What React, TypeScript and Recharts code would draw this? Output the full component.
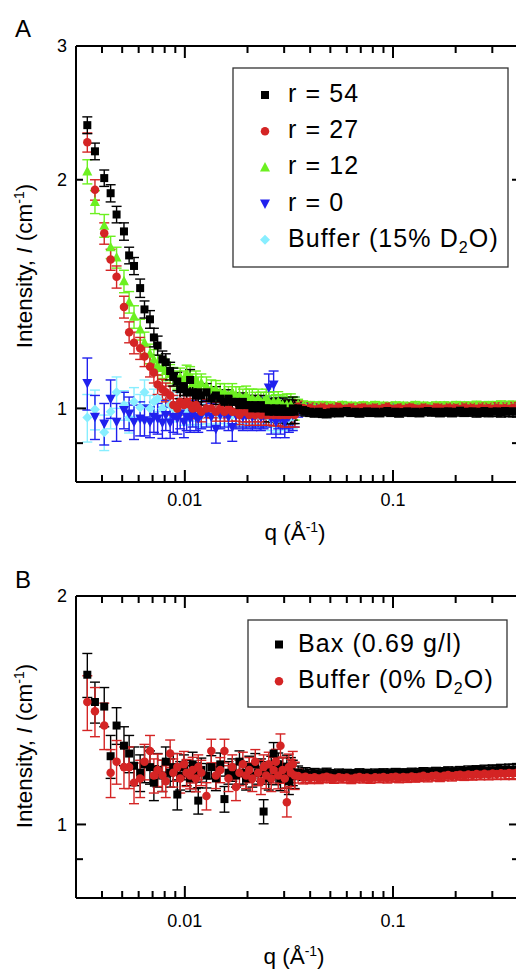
import React from 'react';
import { ScatterChart, Scatter, XAxis, YAxis, ErrorBar } from 'recharts';

const FONT = '"Liberation Sans", Arial, Helvetica, sans-serif';

// q grids (Å^-1): first detector setting and second detector setting
const qLow = [
  0.0034, 0.0037, 0.0041, 0.0044, 0.0047, 0.0051, 0.0054, 0.0057, 0.0061, 0.0064,
  0.0068, 0.0071, 0.0074, 0.0078, 0.0081, 0.0085, 0.0088, 0.0092, 0.0095, 0.0099,
  0.0102, 0.0106, 0.0109, 0.0113, 0.0116, 0.012, 0.0127, 0.0134, 0.0141, 0.0148,
  0.0155, 0.0162, 0.0169, 0.0176, 0.0183, 0.019, 0.0197, 0.0204, 0.0211, 0.0218,
  0.0225, 0.0232, 0.0239, 0.0246, 0.0253, 0.026, 0.0267, 0.0274, 0.0281, 0.0288,
  0.0295, 0.0302, 0.0309, 0.0316, 0.0323, 0.033, 0.0337,
];
const qHigh = [
  0.035, 0.037, 0.038, 0.04, 0.042, 0.044, 0.046, 0.048, 0.05, 0.052,
  0.055, 0.057, 0.06, 0.063, 0.066, 0.069, 0.072, 0.075, 0.078, 0.082,
  0.086, 0.09, 0.094, 0.098, 0.103, 0.107, 0.112, 0.117, 0.123, 0.128,
  0.134, 0.14, 0.147, 0.154, 0.161, 0.168, 0.176, 0.184, 0.192, 0.201,
  0.21, 0.22, 0.23, 0.241, 0.252, 0.263, 0.275, 0.288, 0.301, 0.315,
  0.33, 0.345, 0.361, 0.377, 0.394,
];

// ---- panel A ----
const r54Low = [
  2.36, 2.18, 2.01, 1.92, 1.8, 1.71, 1.59, 1.54, 1.44, 1.35,
  1.31, 1.24, 1.21, 1.16, 1.15, 1.12, 1.1, 1.085, 1.06, 1.07,
  1.05, 1.09, 1.05, 1.04, 1.05, 1.04, 1.05, 1.03, 1.04, 1.03,
  1.02, 1.03, 1.02, 1.02, 1.01, 1.02, 1.01, 1.01, 1.0, 1.01,
  1.0, 1.01, 1.0, 1.0, 0.99, 1.0, 0.99, 1.0, 0.99, 0.99,
  1.0, 0.99, 0.99, 0.99, 0.99, 1.0, 0.99,
];
const r54LowErr = [
  0.06, 0.055, 0.05, 0.05, 0.045, 0.045, 0.04, 0.04, 0.04, 0.035,
  0.035, 0.035, 0.035, 0.03, 0.03, 0.03, 0.03, 0.03, 0.03, 0.03,
  0.03, 0.035, 0.03, 0.03, 0.03, 0.03, 0.028, 0.028, 0.028, 0.028,
  0.028, 0.028, 0.028, 0.028, 0.028, 0.028, 0.028, 0.03, 0.03, 0.03,
  0.03, 0.03, 0.03, 0.03, 0.03, 0.03, 0.03, 0.032, 0.032, 0.032,
  0.032, 0.032, 0.035, 0.035, 0.035, 0.035, 0.035,
];
const r27Low = [
  2.24, 1.94, 1.7, 1.57, 1.49, 1.36, 1.26, 1.22, 1.2, 1.17,
  1.135, 1.115, 1.075, 1.06, 1.05, 1.04, 1.01, 1.0, 1.02, 1.01,
  1.02, 1.01, 1.0, 1.01, 1.0, 0.99, 1.0, 1.0, 0.99, 1.0,
  0.99, 1.0, 0.99, 0.99, 0.98, 0.99, 0.99, 0.98, 0.99, 0.98,
  0.99, 0.98, 0.99, 0.98, 0.98, 0.99, 0.98, 0.99, 0.98, 0.98,
  0.99, 0.98, 0.99, 0.98, 0.99, 0.99, 0.98,
];
const r27LowErr = [
  0.065, 0.06, 0.055, 0.05, 0.05, 0.045, 0.04, 0.04, 0.04, 0.035,
  0.035, 0.035, 0.032, 0.032, 0.03, 0.03, 0.03, 0.03, 0.03, 0.03,
  0.03, 0.03, 0.03, 0.03, 0.03, 0.03, 0.028, 0.028, 0.028, 0.028,
  0.028, 0.028, 0.028, 0.028, 0.028, 0.03, 0.03, 0.03, 0.03, 0.03,
  0.03, 0.03, 0.03, 0.03, 0.03, 0.03, 0.032, 0.032, 0.032, 0.032,
  0.032, 0.035, 0.035, 0.035, 0.035, 0.035, 0.035,
];
const r12Low = [
  2.05, 1.87, 1.74, 1.63, 1.58, 1.47, 1.38, 1.32, 1.27, 1.22,
  1.18, 1.16, 1.14, 1.13, 1.12, 1.11, 1.1, 1.09, 1.1, 1.09,
  1.11, 1.1, 1.08, 1.09, 1.07, 1.08, 1.07, 1.06, 1.06, 1.05,
  1.05, 1.04, 1.05, 1.04, 1.04, 1.03, 1.04, 1.03, 1.03, 1.02,
  1.03, 1.02, 1.02, 1.03, 1.02, 1.01, 1.02, 1.01, 1.02, 1.01,
  1.01, 1.0, 1.01, 1.0, 1.01, 1.0, 1.0,
];
const r12LowErr = [
  0.075, 0.065, 0.06, 0.055, 0.05, 0.05, 0.045, 0.045, 0.04, 0.04,
  0.035, 0.035, 0.035, 0.035, 0.032, 0.032, 0.032, 0.03, 0.03, 0.03,
  0.03, 0.035, 0.03, 0.03, 0.03, 0.03, 0.03, 0.03, 0.028, 0.028,
  0.028, 0.028, 0.028, 0.028, 0.028, 0.03, 0.03, 0.03, 0.03, 0.03,
  0.03, 0.03, 0.03, 0.03, 0.03, 0.03, 0.032, 0.032, 0.032, 0.032,
  0.032, 0.035, 0.035, 0.035, 0.035, 0.035, 0.035,
];
const r0Low = [
  1.08, 0.975, 0.955, 1.03, 0.96, 0.995, 0.985, 0.96, 0.97, 0.965,
  0.96, 0.975, 0.97, 0.958, 0.98, 0.958, 0.975, 0.97, 0.985, 0.96,
  0.975, 0.97, 0.985, 0.975, 0.97, 0.98, 0.985, 0.975, 0.94, 0.98,
  0.985, 0.975, 0.945, 0.98, 0.985, 0.975, 0.98, 0.985, 0.975, 0.98,
  0.985, 0.975, 0.98, 0.99, 1.065, 0.97, 1.075, 0.96, 0.985, 0.97,
  0.99, 0.96, 0.985, 0.975, 0.99, 0.98, 0.99,
];
const r0LowErr = [
  0.085, 0.065, 0.06, 0.06, 0.055, 0.055, 0.05, 0.05, 0.05, 0.045,
  0.045, 0.045, 0.045, 0.045, 0.045, 0.045, 0.045, 0.045, 0.045, 0.045,
  0.04, 0.04, 0.04, 0.04, 0.04, 0.04, 0.04, 0.04, 0.04, 0.04,
  0.04, 0.04, 0.04, 0.04, 0.04, 0.04, 0.04, 0.04, 0.04, 0.04,
  0.04, 0.04, 0.04, 0.045, 0.045, 0.045, 0.045, 0.045, 0.045, 0.045,
  0.045, 0.045, 0.045, 0.045, 0.045, 0.045, 0.045,
];
const bufALow = [
  0.973, 0.997, 0.93, 0.99, 1.05, 1.01, 0.973, 1.02, 1.003, 1.05,
  1.0, 1.02, 1.03, 1.0, 1.05, 1.01, 1.0, 1.01, 1.02, 0.99,
  1.0, 0.99, 1.0, 0.985, 0.99, 0.98, 0.99, 0.985, 0.99, 0.98,
  0.99, 0.985, 0.98, 0.99, 0.985, 0.98, 0.99, 0.98, 0.985, 0.99,
  0.98, 0.985, 0.99, 0.98, 0.985, 0.97, 0.98, 0.965, 0.99, 0.97,
  0.985, 0.975, 0.99, 0.97, 0.985, 0.975, 0.99,
];
const bufALowErr = [
  0.07, 0.06, 0.05, 0.05, 0.05, 0.045, 0.045, 0.045, 0.04, 0.04,
  0.04, 0.04, 0.04, 0.04, 0.04, 0.04, 0.04, 0.04, 0.04, 0.04,
  0.038, 0.038, 0.038, 0.038, 0.038, 0.036, 0.036, 0.036, 0.036, 0.036,
  0.035, 0.035, 0.035, 0.035, 0.035, 0.035, 0.035, 0.035, 0.035, 0.035,
  0.035, 0.035, 0.035, 0.035, 0.035, 0.035, 0.035, 0.035, 0.035, 0.035,
  0.035, 0.035, 0.035, 0.035, 0.035, 0.035, 0.035,
];

const r54High = [
  1.0, 0.995, 0.992, 0.99, 0.988, 0.99, 0.986, 0.985, 0.988, 0.99,
  0.987, 0.99, 0.992, 0.988, 0.99, 0.986, 0.989, 0.991, 0.988, 0.99,
  0.987, 0.99, 0.992, 0.988, 0.99, 0.986, 0.989, 0.991, 0.988, 0.99,
  0.987, 0.99, 0.992, 0.989, 0.99, 0.987, 0.99, 0.991, 0.988, 0.99,
  0.993, 0.989, 0.99, 0.991, 0.988, 0.99, 0.992, 0.989, 0.99, 0.991,
  0.989, 0.992, 0.99, 0.991, 0.99,
];
const r27High = [
  1.006, 1.001, 0.998, 1.002, 0.997, 1.0, 1.003, 0.998, 1.001, 0.999,
  1.004, 0.998, 1.0, 1.002, 0.997, 1.001, 1.003, 0.999, 1.0, 1.002,
  0.998, 1.001, 1.004, 0.999, 1.0, 1.002, 0.998, 1.001, 1.003, 1.0,
  0.999, 1.002, 1.0, 0.998, 1.003, 1.001, 0.999, 1.002, 1.0, 1.001,
  0.998, 1.003, 1.0, 1.001, 0.999, 1.002, 1.0, 1.001, 0.999, 1.002,
  1.0, 1.001, 0.999, 1.002, 1.0,
];
const r12High = [
  1.012, 1.008, 1.005, 1.007, 1.004, 1.006, 1.008, 1.005, 1.007, 1.004,
  1.006, 1.009, 1.005, 1.007, 1.004, 1.006, 1.008, 1.005, 1.006, 1.009,
  1.005, 1.007, 1.004, 1.006, 1.008, 1.005, 1.007, 1.004, 1.006, 1.009,
  1.005, 1.007, 1.006, 1.004, 1.008, 1.005, 1.007, 1.006, 1.004, 1.008,
  1.005, 1.007, 1.006, 1.005, 1.008, 1.006, 1.004, 1.007, 1.005, 1.006,
  1.008, 1.005, 1.007, 1.006, 1.005,
];
const r0High = [
  0.99, 1.004, 0.996, 0.999, 1.001, 0.997, 0.999, 1.0, 0.996, 0.998,
  1.001, 0.997, 0.999, 1.0, 0.998, 0.996, 1.001, 0.999, 0.997, 1.0,
  0.998, 1.0, 0.997, 0.999, 1.001, 0.998, 0.996, 1.0, 0.999, 0.997,
  1.001, 0.998, 0.999, 1.0, 0.997, 0.999, 1.001, 0.998, 1.0, 0.997,
  0.999, 1.001, 0.998, 1.0, 0.999, 0.997, 1.0, 0.998, 1.001, 0.999,
  0.998, 1.0, 0.999, 1.001, 0.998,
];
const bufAHigh = [
  1.003, 0.995, 1.0, 1.002, 0.998, 1.001, 0.999, 1.003, 0.998, 1.0,
  1.002, 0.999, 1.001, 0.998, 1.0, 1.003, 0.999, 1.001, 1.0, 0.998,
  1.002, 1.0, 0.999, 1.001, 1.003, 0.998, 1.0, 1.002, 0.999, 1.001,
  1.0, 0.998, 1.002, 1.001, 0.999, 1.0, 1.003, 0.999, 1.001, 1.0,
  0.998, 1.002, 1.0, 1.001, 0.999, 1.002, 1.0, 0.999, 1.001, 1.0,
  1.002, 0.999, 1.001, 1.0, 1.002,
];
const errHighA = [
  0.016, 0.015, 0.015, 0.014, 0.014, 0.014, 0.013, 0.013, 0.013, 0.013,
  0.012, 0.012, 0.012, 0.012, 0.012, 0.012, 0.012, 0.012, 0.012, 0.012,
  0.012, 0.012, 0.012, 0.012, 0.012, 0.012, 0.012, 0.012, 0.012, 0.012,
  0.012, 0.012, 0.012, 0.012, 0.012, 0.012, 0.013, 0.013, 0.013, 0.013,
  0.013, 0.013, 0.013, 0.014, 0.014, 0.014, 0.014, 0.014, 0.014, 0.015,
  0.015, 0.015, 0.015, 0.016, 0.016,
];

// ---- panel B ----
const baxLow = [
  1.575, 1.45, 1.43, 1.23, 1.35, 1.27, 1.24, 1.195, 1.17, 1.2,
  1.19, 1.135, 1.18, 1.16, 1.21, 1.17, 1.19, 1.095, 1.16, 1.19,
  1.17, 1.15, 1.2, 1.16, 1.075, 1.18, 1.16, 1.19, 1.15, 1.2,
  1.08, 1.17, 1.18, 1.16, 1.21, 1.17, 1.15, 1.19, 1.16, 1.2,
  1.17, 1.18, 1.04, 1.17, 1.15, 1.19, 1.24, 1.17, 1.2, 1.15,
  1.18, 1.16, 1.19, 1.14, 1.18, 1.17, 1.16,
];
const baxLowErr = [
  0.105, 0.09, 0.085, 0.08, 0.075, 0.075, 0.07, 0.07, 0.065, 0.065,
  0.06, 0.06, 0.06, 0.055, 0.055, 0.05, 0.05, 0.05, 0.05, 0.045,
  0.045, 0.045, 0.045, 0.045, 0.043, 0.043, 0.043, 0.042, 0.042, 0.042,
  0.042, 0.04, 0.04, 0.04, 0.04, 0.04, 0.04, 0.04, 0.04, 0.04,
  0.04, 0.04, 0.038, 0.04, 0.04, 0.04, 0.042, 0.042, 0.042, 0.042,
  0.044, 0.044, 0.044, 0.045, 0.045, 0.045, 0.045,
];
const bufBLow = [
  1.45, 1.41, 1.35, 1.17, 1.21, 1.19, 1.19, 1.135, 1.15, 1.21,
  1.25, 1.16, 1.18, 1.16, 1.14, 1.24, 1.17, 1.19, 1.15, 1.2,
  1.17, 1.16, 1.18, 1.15, 1.19, 1.17, 1.09, 1.25, 1.16, 1.18,
  1.25, 1.15, 1.19, 1.12, 1.17, 1.2, 1.16, 1.18, 1.15, 1.21,
  1.17, 1.14, 1.19, 1.16, 1.2, 1.15, 1.18, 1.21, 1.16, 1.27,
  1.18, 1.15, 1.07, 1.19, 1.17, 1.2, 1.16,
];
const bufBLowErr = [
  0.12, 0.105, 0.095, 0.085, 0.08, 0.075, 0.075, 0.07, 0.065, 0.065,
  0.06, 0.06, 0.058, 0.055, 0.055, 0.052, 0.05, 0.05, 0.05, 0.048,
  0.048, 0.046, 0.046, 0.046, 0.045, 0.045, 0.045, 0.045, 0.045, 0.045,
  0.045, 0.045, 0.045, 0.045, 0.045, 0.045, 0.045, 0.045, 0.045, 0.045,
  0.045, 0.045, 0.045, 0.045, 0.045, 0.045, 0.046, 0.046, 0.046, 0.046,
  0.047, 0.047, 0.047, 0.048, 0.048, 0.048, 0.048,
];
const baxHigh = [
  1.17, 1.165, 1.168, 1.163, 1.166, 1.162, 1.165, 1.168, 1.164, 1.162,
  1.166, 1.163, 1.165, 1.161, 1.164, 1.167, 1.163, 1.165, 1.162, 1.166,
  1.164, 1.167, 1.163, 1.166, 1.168, 1.164, 1.167, 1.165, 1.169, 1.166,
  1.168, 1.171, 1.167, 1.17, 1.172, 1.168, 1.171, 1.174, 1.17, 1.173,
  1.175, 1.172, 1.176, 1.174, 1.177, 1.175, 1.178, 1.176, 1.179, 1.177,
  1.18, 1.178, 1.181, 1.179, 1.182,
];
const bufBHigh = [
  1.158, 1.153, 1.156, 1.151, 1.154, 1.15, 1.153, 1.156, 1.152, 1.15,
  1.154, 1.151, 1.153, 1.149, 1.152, 1.155, 1.151, 1.153, 1.15, 1.154,
  1.152, 1.155, 1.151, 1.154, 1.156, 1.152, 1.155, 1.153, 1.157, 1.154,
  1.156, 1.159, 1.155, 1.158, 1.16, 1.156, 1.159, 1.162, 1.158, 1.161,
  1.163, 1.16, 1.164, 1.162, 1.165, 1.163, 1.166, 1.164, 1.167, 1.165,
  1.168, 1.166, 1.169, 1.167, 1.17,
];
const errHighB = [
  0.024, 0.022, 0.02, 0.019, 0.019, 0.018, 0.018, 0.018, 0.017, 0.017,
  0.017, 0.017, 0.017, 0.017, 0.017, 0.017, 0.017, 0.017, 0.017, 0.017,
  0.017, 0.017, 0.017, 0.017, 0.017, 0.017, 0.017, 0.017, 0.017, 0.017,
  0.017, 0.017, 0.017, 0.017, 0.017, 0.017, 0.017, 0.017, 0.017, 0.017,
  0.017, 0.017, 0.018, 0.018, 0.018, 0.018, 0.019, 0.019, 0.019, 0.019,
  0.02, 0.02, 0.02, 0.021, 0.021,
];

// axis ticks
const xMajor = [0.01, 0.1];
const xMinor = [
  0.004, 0.005, 0.006, 0.007, 0.008, 0.009,
  0.02, 0.03, 0.04, 0.05, 0.06, 0.07, 0.08, 0.09,
  0.2, 0.3,
];
const yLabelsA = [1, 2, 3];
const yLabelsB = [1, 2];
const yMajor = [1];
const yMinorA = [0.9, 2, 3];
const yMinorB = [0.9, 2];

const BLACK = '#000000';
const RED = '#d42424';
const GREEN = '#6cf020';
const BLUE = '#2020ee';
const CYAN = '#88eeff';

type Pt = { q: number; I: number; e: number };
const toPoints = (lowI: number[], lowE: number[], highI: number[], highE: number[]): Pt[] => [
  ...qLow.map((q, i) => ({ q, I: lowI[i], e: lowE[i] })),
  ...qHigh.map((q, i) => ({ q, I: highI[i], e: highE[i] })),
];

// marker shapes
const square = (c: string, s: number) => (p: any) => (
  <rect x={p.cx - s / 2} y={p.cy - s / 2} width={s} height={s} fill={c} />
);
const circle = (c: string, s: number) => (p: any) => <circle cx={p.cx} cy={p.cy} r={s / 2} fill={c} />;
const triUp = (c: string, s: number) => (p: any) => (
  <polygon
    points={`${p.cx},${p.cy - s * 0.55} ${p.cx - s / 2},${p.cy + s * 0.4} ${p.cx + s / 2},${p.cy + s * 0.4}`}
    fill={c}
  />
);
const triDown = (c: string, s: number) => (p: any) => (
  <polygon
    points={`${p.cx},${p.cy + s * 0.55} ${p.cx - s / 2},${p.cy - s * 0.4} ${p.cx + s / 2},${p.cy - s * 0.4}`}
    fill={c}
  />
);
const diamond = (c: string, s: number) => (p: any) => (
  <polygon
    points={`${p.cx},${p.cy - s / 2} ${p.cx + s / 2},${p.cy} ${p.cx},${p.cy + s / 2} ${p.cx - s / 2},${p.cy}`}
    fill={c}
  />
);
// q-axis tick marks, placed on the frame through the chart's own scales
const tickUp = (len: number) => (p: any) => <rect x={p.cx - 1} y={p.cy - len} width={2} height={len} fill="#000" />;
const tickDown = (len: number) => (p: any) => <rect x={p.cx - 1} y={p.cy} width={2} height={len} fill="#000" />;

type Series = {
  key: string;
  label: string;
  sub?: string;
  tail?: string;
  color: string;
  shape: (c: string, s: number) => (p: any) => React.ReactElement;
  size: number;
  data: Pt[];
};

// drawing order: first is at the back
const seriesA: Series[] = [
  { key: 'buf', label: 'Buffer (15% D', sub: '2', tail: 'O)', color: CYAN, shape: diamond, size: 10, data: toPoints(bufALow, bufALowErr, bufAHigh, errHighA) },
  { key: 'r0', label: 'r = 0', color: BLUE, shape: triDown, size: 10, data: toPoints(r0Low, r0LowErr, r0High, errHighA) },
  { key: 'r12', label: 'r = 12', color: GREEN, shape: triUp, size: 10, data: toPoints(r12Low, r12LowErr, r12High, errHighA) },
  { key: 'r27', label: 'r = 27', color: RED, shape: circle, size: 8.5, data: toPoints(r27Low, r27LowErr, r27High, errHighA) },
  { key: 'r54', label: 'r = 54', color: BLACK, shape: square, size: 8, data: toPoints(r54Low, r54LowErr, r54High, errHighA) },
];
const seriesB: Series[] = [
  { key: 'bax', label: 'Bax (0.69 g/l)', color: BLACK, shape: square, size: 8, data: toPoints(baxLow, baxLowErr, baxHigh, errHighB) },
  { key: 'bufB', label: 'Buffer (0% D', sub: '2', tail: 'O)', color: RED, shape: circle, size: 8.5, data: toPoints(bufBLow, bufBLowErr, bufBHigh, errHighB) },
];

const AXIS = { stroke: '#000', strokeWidth: 2 };
const TL = { stroke: '#000', strokeWidth: 2 };
const X_DOMAIN = [0.003, 0.403];

const xLabelTick = (labelDy: number) => (p: any) => (
  <text x={p.x} y={p.y + labelDy} textAnchor="middle" fontSize={18} fontFamily={FONT} fill="#000">
    {String(p.payload.value)}
  </text>
);
const yLabelTick = (p: any) => (
  <text x={p.x - 9} y={p.y + 6.4} textAnchor="end" fontSize={18} fontFamily={FONT} fill="#000">
    {String(p.payload.value)}
  </text>
);
// renders nothing: the helper axes only show their tick lines
const noLabel = () => <g />;

// inward intensity ticks drawn by mirrored helper axes
const yMarks = (id: string, orientation: 'left' | 'right', ticks: number[], size: number, domain: number[]) => (
  <YAxis key={id} yAxisId={id} orientation={orientation} mirror type="number" scale="log"
    domain={domain} allowDataOverflow ticks={ticks} interval={0} width={1}
    stroke="#000" axisLine={false} tickLine={TL} tickSize={size} tickMargin={0} tick={noLabel} />
);

function Panel({ top, height, yDomain, yLabels, yMinor, series, labelDy }: {
  top: number; height: number; yDomain: number[]; yLabels: number[]; yMinor: number[]; series: Series[]; labelDy: number;
}) {
  const [yLo, yHi] = yDomain;
  const tickSets = [
    { key: 'bmin', data: xMinor.map((q) => ({ q, I: yLo })), shape: tickUp(7) },
    { key: 'bmaj', data: xMajor.map((q) => ({ q, I: yLo })), shape: tickUp(12) },
    { key: 'tmin', data: xMinor.map((q) => ({ q, I: yHi })), shape: tickDown(7) },
    { key: 'tmaj', data: xMajor.map((q) => ({ q, I: yHi })), shape: tickDown(12) },
  ];
  return (
    <div style={{ position: 'absolute', left: 0, top }}>
      <ScatterChart width={529} height={height + 14} margin={{ top: 36, right: 0, bottom: 14, left: 16 }}>
        <XAxis xAxisId="bottom" orientation="bottom" type="number" dataKey="q" scale="log"
          domain={X_DOMAIN} allowDataOverflow ticks={xMajor} interval={0}
          tickLine={false} tickSize={0} tickMargin={0} height={30} axisLine={AXIS} tick={xLabelTick(labelDy)} />
        <XAxis xAxisId="top" orientation="top" type="number" scale="log"
          domain={X_DOMAIN} allowDataOverflow ticks={xMajor} interval={0}
          tickLine={false} tick={noLabel} height={10} axisLine={AXIS} />
        <YAxis yAxisId="left" orientation="left" type="number" dataKey="I" scale="log"
          domain={yDomain} allowDataOverflow ticks={yLabels} interval={0}
          tickLine={false} tickSize={0} tickMargin={0} width={60} axisLine={AXIS} tick={yLabelTick} />
        <YAxis yAxisId="right" orientation="right" type="number" scale="log"
          domain={yDomain} allowDataOverflow ticks={yLabels} interval={0}
          tickLine={false} tick={noLabel} width={10} axisLine={AXIS} />
        {yMarks('lMin', 'left', yMinor, 6, yDomain)}
        {yMarks('lMaj', 'left', yMajor, 10, yDomain)}
        {yMarks('rMin', 'right', yMinor, 6, yDomain)}
        {yMarks('rMaj', 'right', yMajor, 10, yDomain)}
        {tickSets.map((t) => (
          <Scatter key={t.key} name={t.key} xAxisId="bottom" yAxisId="left" data={t.data}
            isAnimationActive={false} shape={t.shape} />
        ))}
        {series.map((s) => (
          <Scatter key={s.key} name={s.key} xAxisId="bottom" yAxisId="left" data={s.data}
            isAnimationActive={false} shape={s.shape(s.color, s.size)}>
            <ErrorBar dataKey="e" direction="y" width={5} stroke={s.color} strokeWidth={1.4} isAnimationActive={false} />
          </Scatter>
        ))}
      </ScatterChart>
    </div>
  );
}

const LegendRow = ({ s, mx, tx, base }: { s: Series; mx: number; tx: number; base: number }) => (
  <g>
    {s.shape(s.color, s.size)({ cx: mx, cy: base - 7 })}
    <text x={tx} y={base} fontSize={25} letterSpacing={1.1} fill="#000">
      {s.label}
      {s.sub && <tspan fontSize={16} dy={6}>{s.sub}</tspan>}
      {s.tail && <tspan dy={-6}>{s.tail}</tspan>}
    </text>
  </g>
);

const YTitle = ({ cy }: { cy: number }) => (
  <text transform={`translate(31.5,${cy}) rotate(-90)`} textAnchor="middle" fontSize={22.5} fill="#000">
    Intensity, <tspan fontStyle="italic">I</tspan> (cm<tspan fontSize={14} dy={-8}>-1</tspan>
    <tspan dy={8}>)</tspan>
  </text>
);
const XTitle = ({ cx, base }: { cx: number; base: number }) => (
  <text x={cx} y={base} textAnchor="middle" fontSize={22.5} fill="#000">
    q (Å<tspan fontSize={14} dy={-8}>-1</tspan>
    <tspan dy={8}>)</tspan>
  </text>
);

export default function App() {
  const legendA = [...seriesA].reverse();
  return (
    <div style={{ position: 'absolute', left: 0, top: 0, width: 516, height: 969, overflow: 'hidden', background: '#fff', fontFamily: FONT }}>
      <Panel top={0} height={512} yDomain={[0.8, 3]} yLabels={yLabelsA} yMinor={yMinorA} series={seriesA} labelDy={24} />
      <Panel top={550} height={378} yDomain={[0.8, 2]} yLabels={yLabelsB} yMinor={yMinorB} series={seriesB} labelDy={28.5} />
      <svg width={516} height={969} style={{ position: 'absolute', left: 0, top: 0, pointerEvents: 'none' }} fontFamily={FONT}>
        <text x={15} y={37} fontSize={24} fill="#000">A</text>
        <text x={15} y={588} fontSize={24} fill="#000">B</text>
        <YTitle cy={266} />
        <YTitle cy={746} />
        <XTitle cx={295} base={540} />
        <XTitle cx={294} base={964} />

        <rect x={233} y={68} width={275} height={199} fill="#fff" stroke="#333" strokeWidth={1.3} />
        {legendA.map((s, i) => (
          <LegendRow key={s.key} s={s} mx={265} tx={288} base={102 + i * 36.2} />
        ))}

        <rect x={248} y={620} width={259} height={87} fill="#fff" stroke="#333" strokeWidth={1.3} />
        {seriesB.map((s, i) => (
          <LegendRow key={s.key} s={s} mx={279} tx={298} base={651.5 + i * 36.7} />
        ))}
      </svg>
    </div>
  );
}
